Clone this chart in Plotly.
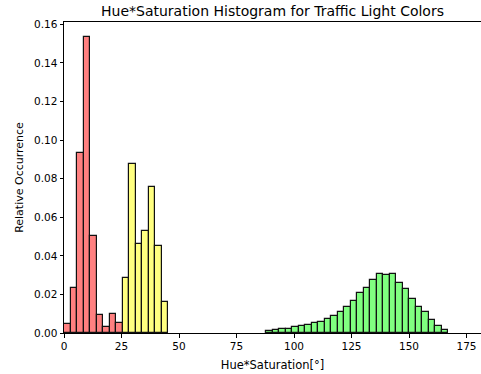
import numpy as np
import plotly.graph_objects as go

# Histogram binning: 64 equal bins starting at 0
n_bins = 64
x_max = 181.3
bin_width = x_max / n_bins

# Relative occurrence per bin for each traffic light colour (first bin index given)
red_first_bin = 0
red_values = [0.0045, 0.0234, 0.0933, 0.1535, 0.0503, 0.0091, 0.0031, 0.0100, 0.0052]

yellow_first_bin = 9
yellow_values = [0.0287, 0.0875, 0.0462, 0.0529, 0.0756, 0.0452, 0.0161]

green_first_bin = 31
green_values = [0.0009, 0.0017, 0.0021, 0.0022, 0.0031, 0.0034, 0.0041, 0.0053,
                0.0058, 0.0072, 0.0089, 0.0108, 0.0137, 0.0167, 0.0205, 0.0234,
                0.0277, 0.0308, 0.0301, 0.0306, 0.0259, 0.0227, 0.0174, 0.0136,
                0.0107, 0.0067, 0.0036, 0.0014]

x_ticks = [0, 25, 50, 75, 100, 125, 150, 175]
y_ticks = [0.00, 0.02, 0.04, 0.06, 0.08, 0.10, 0.12, 0.14, 0.16]

series = [
    (red_first_bin, red_values, "#ff8080"),
    (yellow_first_bin, yellow_values, "#ffff80"),
    (green_first_bin, green_values, "#80ff80"),
]

fig = go.Figure()
for first, values, color in series:
    idx = np.arange(first, first + len(values))
    centers = (idx + 0.5) * bin_width
    fig.add_trace(go.Bar(
        x=centers, y=values, width=bin_width,
        marker=dict(color=color, line=dict(color="#111111", width=1.2)),
        showlegend=False,
    ))

font = "DejaVu Sans, sans-serif"
fig.update_layout(
    width=481, height=374,
    margin=dict(l=64, r=0, t=22, b=41),
    paper_bgcolor="white", plot_bgcolor="white",
    bargap=0,
    font=dict(family=font, color="black", size=11),
    title=dict(text="Hue*Saturation Histogram for Traffic Light Colors",
               x=(64 + 481) / 2 / 481, xanchor="center",
               y=1 - 11 / 374, yanchor="middle",
               font=dict(size=14, family=font, color="black")),
    xaxis=dict(range=[0, x_max], tickvals=x_ticks, ticktext=[str(t) for t in x_ticks],
               showgrid=False, zeroline=False, showline=True, linecolor="black",
               linewidth=1, mirror=True, ticks="outside", ticklen=3.5,
               tickcolor="black", tickfont=dict(size=10.5),
               title=dict(text="Hue*Saturation[°]", font=dict(size=11.5), standoff=9)),
    yaxis=dict(range=[0, 0.1612], tickvals=y_ticks,
               ticktext=[f"{t:.2f}" for t in y_ticks],
               showgrid=False, zeroline=False, showline=True, linecolor="black",
               linewidth=1, mirror=False, ticks="outside", ticklen=3.5,
               tickcolor="black", tickfont=dict(size=10.5),
               title=dict(text="Relative Occurrence", font=dict(size=11), standoff=8)),
)

fig.write_html("out.html")
